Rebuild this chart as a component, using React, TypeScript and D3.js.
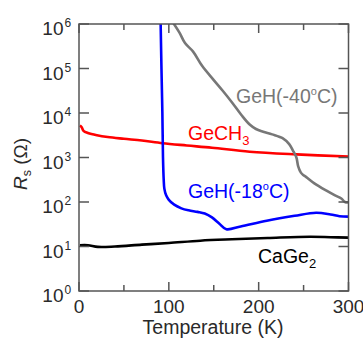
import React from "react";
import * as d3 from "d3";

// ---- data (temperature in K, resistance in ohm) ----
const gech3T = [1, 3, 5, 10, 20, 32, 50, 70, 93, 120, 148, 190, 242, 300];
const gech3R = [5250, 4790, 3980, 3550, 3160, 2880, 2630, 2400, 2090, 1860, 1660, 1350, 1175, 1050];

const geh40T = [105, 112, 118, 127, 137, 150, 160, 171, 181, 190, 197, 205, 215, 227, 234, 238, 242, 244, 247, 250, 253, 262, 275, 285, 292, 296, 300];
const geh40R = [1050000, 631000, 372000, 240000, 115000, 55000, 31600, 16600, 8900, 5500, 4370, 3800, 3310, 2690, 2000, 1450, 1000, 630, 457, 398, 363, 263, 182, 141, 120, 100, 98];

const geh18T = [90.8, 91.8, 92.8, 93.5, 94.3, 95, 97, 100, 106, 114, 122, 132, 140, 148, 156, 164, 180, 209, 240, 264, 280, 290, 300];
const geh18R = [1260000, 100000, 10000, 1000, 316, 200, 141, 112, 87, 72, 65, 60, 55, 45, 33, 24.5, 28.2, 38, 49, 57.5, 52.5, 47.9, 46.8];

const cageT = [1, 10, 21, 40, 70, 100, 135, 170, 210, 257, 280, 300];
const cageR = [10.7, 10.7, 9.8, 10.0, 11.0, 12.0, 13.5, 14.5, 15.5, 16.6, 16.2, 15.8];

const xTicks = [0, 100, 200, 300];
const xMinorTicks = [50, 150, 250];
const yExponents = [0, 1, 2, 3, 4, 5, 6];

const W = 363;
const H = 341;
const left = 79;
const right = 348.5;
const top = 24;
const bottom = 291;

export default function App() {
  const x = d3.scaleLinear().domain([0, 300]).range([left, right]);
  const y = d3.scaleLog().domain([1, 1e6]).range([bottom, top]);

  const line = d3
    .line<[number, number]>()
    .x((d) => x(d[0]))
    .y((d) => y(d[1]))
    .curve(d3.curveCatmullRom.alpha(0.5));

  const zip = (a: number[], b: number[]) => a.map((t, i) => [t, b[i]] as [number, number]);

  const series = [
    { T: cageT, R: cageR, color: "#000000" },
    { T: gech3T, R: gech3R, color: "#ff0000" },
    { T: geh40T, R: geh40R, color: "#777777" },
    { T: geh18T, R: geh18R, color: "#0000ff" },
  ];

  const font = "Liberation Sans, Arial, sans-serif";
  const axisColor = "#555";
  const textColor = "#2a2a2a";

  return (
    <svg width={W} height={H} style={{ position: "absolute", left: 0, top: 0 }} fontFamily={font}>
      <defs>
        <clipPath id="plotclip">
          <rect x={left} y={top} width={right - left} height={bottom - top} />
        </clipPath>
      </defs>
      <rect x={0} y={0} width={W} height={H} fill="#fff" />

      <g clipPath="url(#plotclip)">
        {series.map((s, i) => (
          <path key={i} d={line(zip(s.T, s.R)) || ""} fill="none" stroke={s.color} strokeWidth={2.6} strokeLinejoin="round" />
        ))}
      </g>

      {/* frame */}
      <rect x={left} y={top} width={right - left} height={bottom - top} fill="none" stroke={axisColor} strokeWidth={1.5} />

      {/* x ticks */}
      {xTicks.map((t) => (
        <g key={"xt" + t}>
          <line x1={x(t)} x2={x(t)} y1={bottom} y2={bottom - 9} stroke={axisColor} strokeWidth={1.5} />
          <line x1={x(t)} x2={x(t)} y1={top} y2={top + 9} stroke={axisColor} strokeWidth={1.5} />
          <text x={x(t)} y={313} textAnchor="middle" fontSize={19} fill={textColor}>
            {t}
          </text>
        </g>
      ))}
      {xMinorTicks.map((t) => (
        <g key={"xm" + t}>
          <line x1={x(t)} x2={x(t)} y1={bottom} y2={bottom - 6} stroke={axisColor} strokeWidth={1.5} />
          <line x1={x(t)} x2={x(t)} y1={top} y2={top + 6} stroke={axisColor} strokeWidth={1.5} />
        </g>
      ))}

      {/* y ticks */}
      {yExponents.map((e) => {
        const yy = y(Math.pow(10, e));
        return (
          <g key={"yt" + e}>
            <line x1={left} x2={left + 10} y1={yy} y2={yy} stroke={axisColor} strokeWidth={1.5} />
            <line x1={right} x2={right - 10} y1={yy} y2={yy} stroke={axisColor} strokeWidth={1.5} />
            <text x={63.5} y={yy + 11} textAnchor="end" fontSize={19} fill={textColor}>
              10
            </text>
            <text x={64.5} y={yy + 3} textAnchor="start" fontSize={12} fill={textColor}>
              {e}
            </text>
          </g>
        );
      })}

      {/* axis titles */}
      <text x={213} y={334} textAnchor="middle" fontSize={19.5} fill={textColor}>
        Temperature (K)
      </text>
      <text transform="translate(27,164) rotate(-90)" textAnchor="middle" fontSize={19} fill={textColor}>
        <tspan fontStyle="italic">R</tspan>
        <tspan fontSize={12.5} dy={4}>s</tspan>
        <tspan dy={-4}> (Ω)</tspan>
      </text>

      {/* series labels */}
      <text x={236} y={103} fontSize={19.5} fill="#777777">
        GeH(-40<tspan fontSize={11} dy={-8}>o</tspan>
        <tspan dy={8}>C)</tspan>
      </text>
      <text x={188} y={140} fontSize={19.5} fill="#ff0000">
        GeCH<tspan fontSize={13} dy={5}>3</tspan>
      </text>
      <text x={188} y={198} fontSize={19.5} fill="#0000ff">
        GeH(-18<tspan fontSize={11} dy={-8}>o</tspan>
        <tspan dy={8}>C)</tspan>
      </text>
      <text x={258} y={263} fontSize={19.5} fill="#000000">
        CaGe<tspan fontSize={13} dy={5}>2</tspan>
      </text>
    </svg>
  );
}
